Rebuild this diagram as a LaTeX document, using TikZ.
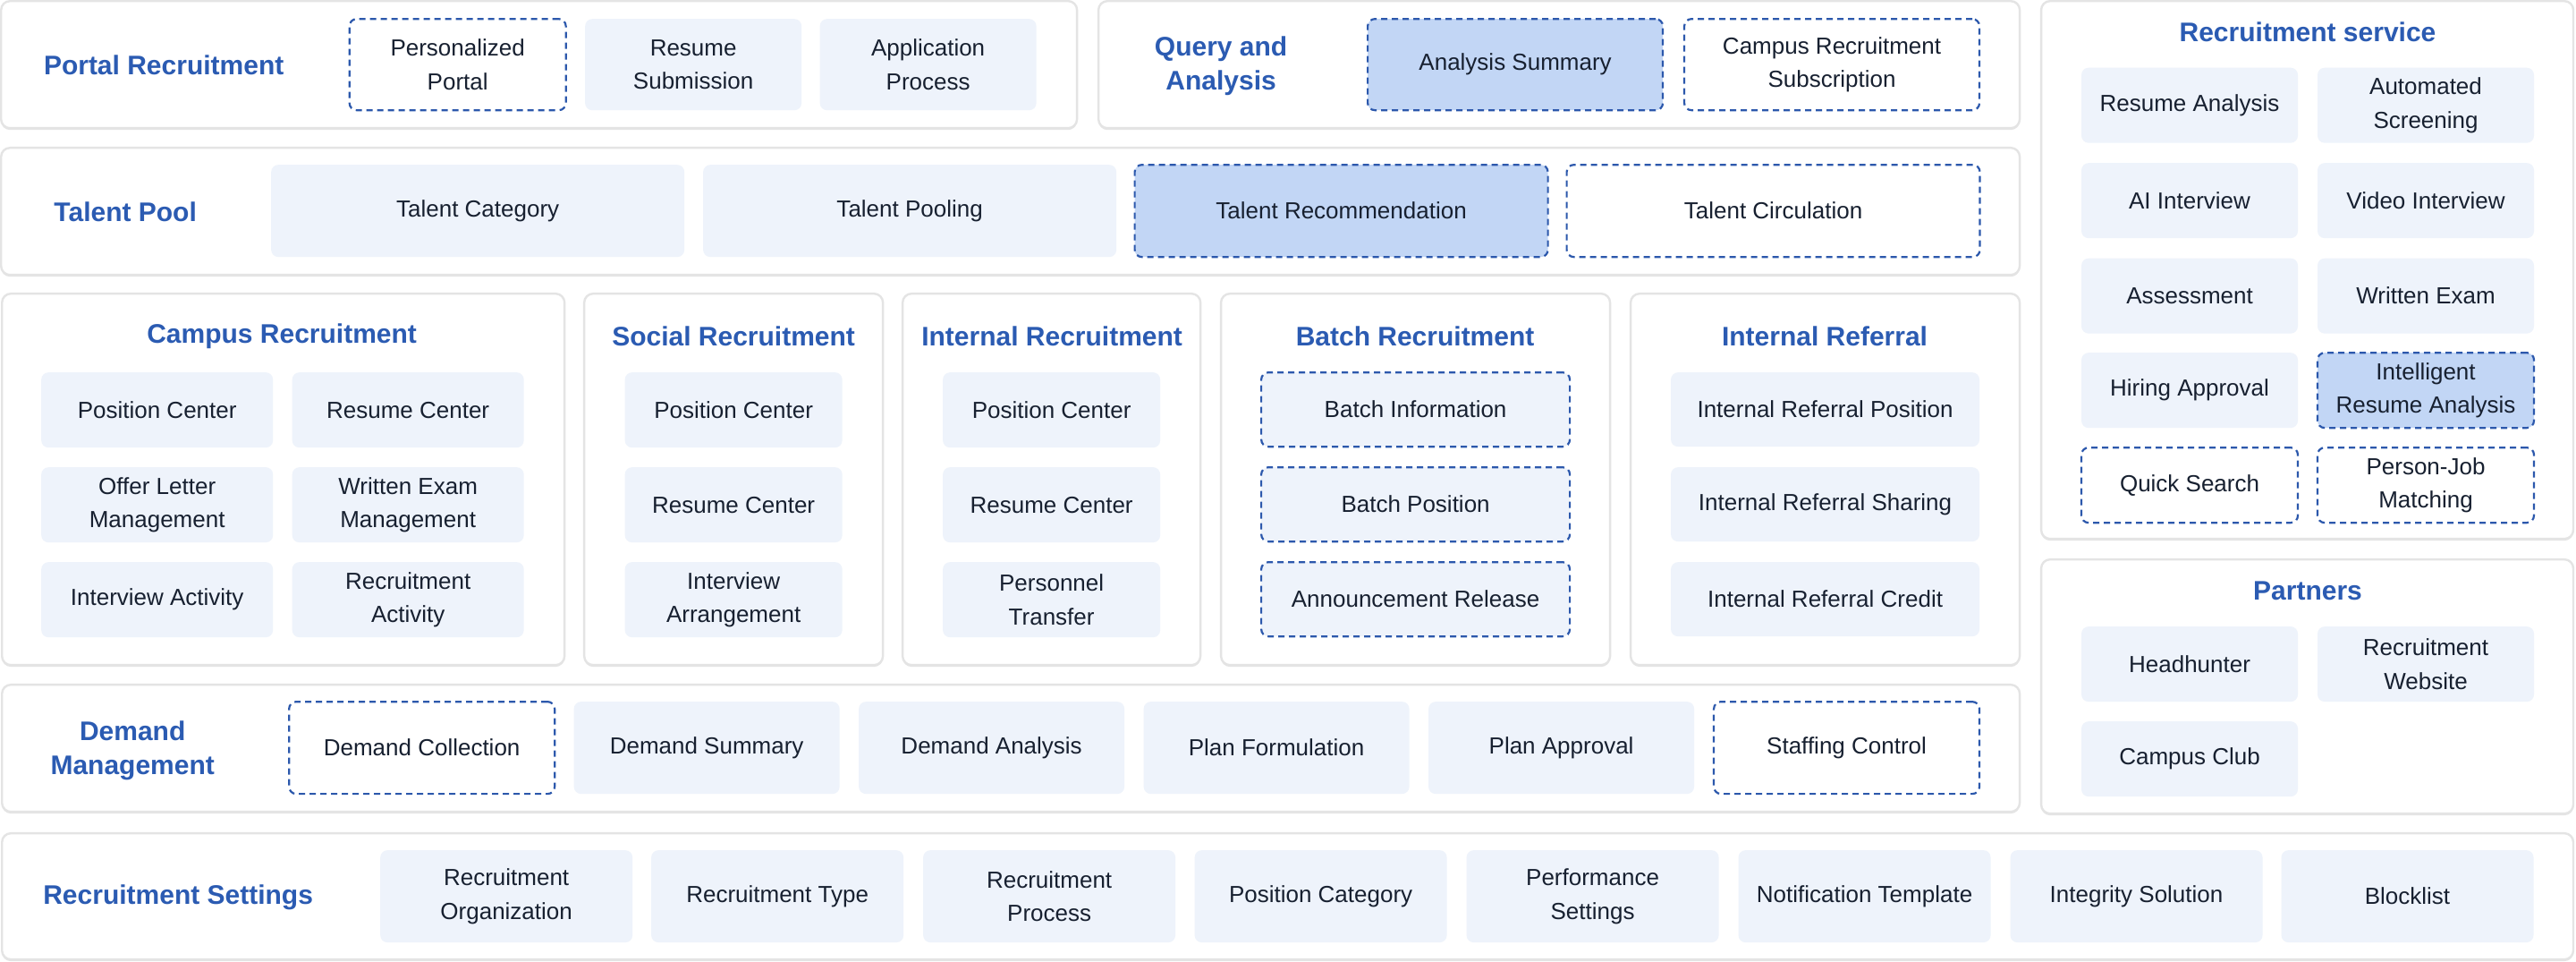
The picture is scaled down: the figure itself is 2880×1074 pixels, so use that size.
\documentclass[tikz,border=0pt]{standalone}
\usepackage{fontspec}
\setmainfont{Liberation Sans}
\definecolor{ttlblue}{HTML}{2B5BB2}
\definecolor{dashblue}{HTML}{2C58AC}
\definecolor{itemfill}{HTML}{EEF3FB}
\definecolor{hifill}{HTML}{C2D6F5}
\definecolor{itemtext}{HTML}{172030}
\definecolor{panelline}{HTML}{E4E4E4}

\tikzset{
  panel/.style={draw=panelline,line width=1.2pt,fill=white,rounded corners=5pt},
  shade/.style={fill=panelline,rounded corners=5pt},
  ttl/.style={text=ttlblue,font=\fontsize{15}{19}\selectfont\bfseries,align=center,inner sep=0pt},
  item/.style={fill=itemfill,rounded corners=4pt,align=center,inner sep=0pt,text=itemtext,
    font=\fontsize{13}{18.8}\selectfont},
  dashitem/.style={item,fill=white,draw=dashblue,line width=1.1pt,dash pattern=on 3.5pt off 2.5pt},
  dashfill/.style={dashitem,fill=itemfill},
  hiitem/.style={dashitem,fill=hifill},
  boxsize/.style 2 args={minimum width=#1*0.5pt,minimum height=#2*0.5pt}
}

\begin{document}
\begin{tikzpicture}[x=0.5pt,y=-0.5pt]
\fill[white] (0,0) rectangle (2880,1074);

% panels
\foreach \xa/\ya/\xb/\yb in {1/1/1204/143, 1228/1/2258/143, 1/165/2258/307,
    2/328/631/743, 653/328/987/743, 1009/328/1342/743, 1365/328/1800/743, 1823/328/2258/743,
    2/765/2258/907, 2/931/2877/1072, 2282/1/2877/602, 2282/625/2877/909} {
  \fill[shade] (\xa,\ya+3) rectangle (\xb,\yb+2);
  \draw[panel] (\xa,\ya) rectangle (\xb,\yb);
}

% titles
\node[ttl] (tportal) at (183,73) {Portal Recruitment};
\node[ttl] (tquery) at (1365,74) {Query and\\Analysis};
\node[ttl] (ttalent) at (140,237) {Talent Pool};
\node[ttl] (tcampus) at (315,376) {Campus Recruitment};
\node[ttl] (tsocial) at (820,376) {Social Recruitment};
\node[ttl] (tinternal) at (1176,376) {Internal Recruitment};
\node[ttl] (tbatch) at (1582,376) {Batch Recruitment};
\node[ttl] (treferral) at (2040,376) {Internal Referral};
\node[ttl] (tservice) at (2580,36) {Recruitment service};
\node[ttl] (tpartner) at (2580,660) {Partners};
\node[ttl] (tdemand) at (148,839) {Demand\\Management};
\node[ttl] (tsetting) at (199,1003) {Recruitment Settings};

% portal and query
\foreach \x/\s/\t [count=\i] in {511.5/dashitem/Personalized\\Portal, 775/item/Resume\\Submission,
    1037.5/item/Application\\Process}
  \node[\s,boxsize={242}{102}] (portal\i) at (\x,72) {\t};
\foreach \x/\s/\t [count=\i] in {1694/hiitem/Analysis Summary, 2048/dashitem/Campus Recruitment\\Subscription}
  \node[\s,boxsize={330}{102}] (query\i) at (\x,72) {\t};

% talent pool
\foreach \x/\s/\t [count=\i] in {534/item/Talent Category, 1017/item/Talent Pooling,
    1499.5/hiitem/Talent Recommendation, 1982.5/dashitem/Talent Circulation}
  \node[\s,boxsize={462}{103}] (talent\i) at (\x,235.5) {\t};

% recruitment columns
\foreach \x/\y/\t [count=\i] in {175.5/458/Position Center, 456/458/Resume Center,
    175.5/564/Offer Letter\\Management, 456/564/Written Exam\\Management,
    175.5/670/Interview Activity, 456/670/Recruitment\\Activity}
  \node[item,boxsize={259}{84}] (campus\i) at (\x,\y) {\t};
\foreach \y/\t [count=\i] in {458/Position Center, 564/Resume Center, 670/Interview\\Arrangement}
  \node[item,boxsize={243}{84}] (social\i) at (820,\y) {\t};
\foreach \y/\t [count=\i] in {458/Position Center, 564/Resume Center, 670/Personnel\\Transfer}
  \node[item,boxsize={243}{84}] (internal\i) at (1175.5,\y) {\t};
\foreach \y/\t [count=\i] in {457.5/Batch Information, 563.5/Batch Position, 669.5/Announcement Release}
  \node[dashfill,boxsize={345}{83}] (batch\i) at (1582.5,\y) {\t};
\foreach \y/\t [count=\i] in {457.5/Internal Referral Position, 563.5/Internal Referral Sharing,
    669.5/Internal Referral Credit}
  \node[item,boxsize={345}{83}] (referral\i) at (2040.5,\y) {\t};

% demand management
\foreach \x/\s/\t [count=\i] in {471.5/dashitem/Demand Collection, 790/item/Demand Summary,
    1108.5/item/Demand Analysis, 1427/item/Plan Formulation, 1745.5/item/Plan Approval,
    2064.5/dashitem/Staffing Control}
  \node[\s,boxsize={297}{103}] (demand\i) at (\x,835.5) {\t};

% settings
\foreach \x/\t [count=\i] in {566/Recruitment\\Organization, 869/Recruitment Type,
    1173/Recruitment\\Process, 1476.5/Position Category, 1780.5/Performance\\Settings,
    2084.5/Notification Template, 2388.5/Integrity Solution, 2691.5/Blocklist}
  \node[item,boxsize={282}{103}] (setting\i) at (\x,1001.5) {\t};

% recruitment service
\foreach \x/\y/\s/\t [count=\i] in {2448/117.5/item/Resume Analysis, 2712/117.5/item/Automated\\Screening,
    2448/224/item/AI Interview, 2712/224/item/Video Interview,
    2448/330.5/item/Assessment, 2712/330.5/item/Written Exam,
    2448/436/item/Hiring Approval, 2712/436/hiitem/Intelligent\\Resume Analysis,
    2448/542/dashitem/Quick Search, 2712/542/dashitem/Person-Job\\Matching}
  \node[\s,boxsize={242}{84}] (service\i) at (\x,\y) {\t};

% partners
\foreach \x/\y/\t [count=\i] in {2448/742/Headhunter, 2712/742/Recruitment\\Website, 2448/848/Campus Club}
  \node[item,boxsize={242}{84}] (partner\i) at (\x,\y) {\t};

\end{tikzpicture}
\end{document}
